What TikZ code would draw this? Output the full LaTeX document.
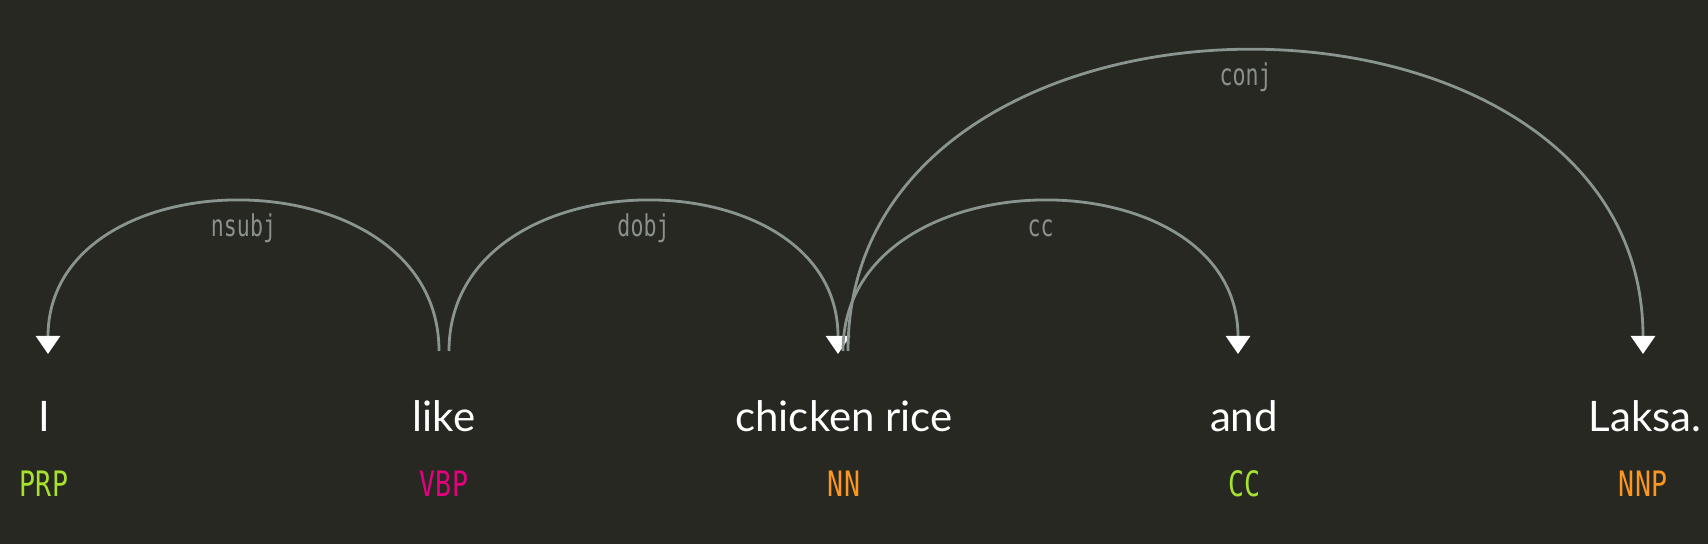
\documentclass[tikz,border=0pt]{standalone}
\usepackage{fontspec}
\setmainfont{Lato}
\newfontfamily\tagfont[FakeStretch=0.76]{DejaVu Sans Mono}
\newfontfamily\deplabelfont[FakeStretch=0.72]{DejaVu Sans Mono}
\usepackage{xcolor}
\usepackage{tikz}
\usetikzlibrary{positioning,arrows.meta}

\definecolor{bgdark}{RGB}{39,40,34}
\definecolor{arcgray}{RGB}{138,149,143}
\definecolor{lblgray}{RGB}{138,145,140}
\definecolor{taggreen}{RGB}{166,226,46}
\definecolor{tagpink}{RGB}{229,0,125}
\definecolor{tagorange}{RGB}{253,151,31}

\begin{document}
\begin{tikzpicture}[
x=0.5pt,
y=-0.5pt,
>={Triangle[width=12pt,length=9pt,color=white]},
word/.style={
anchor=base,
inner sep=0pt,
text=white,
font=\fontsize{21}{25}\selectfont
},
postag/.style={
anchor=base,
inner sep=0pt,
font=\tagfont\fontsize{17.5}{20}\selectfont
},
deparc/.style={
->,
draw=arcgray,
line width=1.4pt
},
deplabel/.style={
anchor=base,
inner sep=0pt,
yshift=-17pt,
text=lblgray,
font=\deplabelfont\fontsize{15}{17}\selectfont
}
]

\fill[bgdark] (0,0) rectangle (1708,544);
\useasboundingbox (0,0) rectangle (1708,544);

%%%%%%%%%%%%%%%%%%%%%%%%%%%%%%%%%%%%%%%%%%%%%
% Words
%%%%%%%%%%%%%%%%%%%%%%%%%%%%%%%%%%%%%%%%%%%%%

\node[word] (w-i) at (44,432) {I};
\node[word] (w-like) at (444,432) {like};
\node[word] (w-chicken) at (844,432) {chicken rice};
\node[word] (w-and) at (1244,432) {and};
\node[word] (w-laksa) at (1645,432) {Laksa.};

%%%%%%%%%%%%%%%%%%%%%%%%%%%%%%%%%%%%%%%%%%%%%
% Tags
%%%%%%%%%%%%%%%%%%%%%%%%%%%%%%%%%%%%%%%%%%%%%

\node[postag,text=taggreen] (t-i) at (44,497) {PRP};
\node[postag,text=tagpink] (t-like) at (444,497) {VBP};
\node[postag,text=tagorange] (t-chicken) at (844,497) {NN};
\node[postag,text=taggreen] (t-and) at (1244,497) {CC};
\node[postag,text=tagorange] (t-laksa) at (1643,497) {NNP};

%%%%%%%%%%%%%%%%%%%%%%%%%%%%%%%%%%%%%%%%%%%%%
% Arc ends
%%%%%%%%%%%%%%%%%%%%%%%%%%%%%%%%%%%%%%%%%%%%%

\coordinate (i-in) at (48,354);
\coordinate (like-l) at (439,351);
\coordinate (like-r) at (449,351);
\coordinate (chicken-in) at (838,354);
\coordinate (chicken-a) at (843,351);
\coordinate (chicken-b) at (848,351);
\coordinate (and-in) at (1238,354);
\coordinate (laksa-in) at (1643,354);

%%%%%%%%%%%%%%%%%%%%%%%%%%%%%%%%%%%%%%%%%%%%%
% Arcs
%%%%%%%%%%%%%%%%%%%%%%%%%%%%%%%%%%%%%%%%%%%%%

\draw[deparc] (like-l) .. controls +(0,-199) and +(0,-202) .. (i-in)
node[deplabel,pos=0.5] {nsubj};

\draw[deparc] (like-r) .. controls +(0,-199) and +(0,-202) .. (chicken-in)
node[deplabel,pos=0.5] {dobj};

\draw[deparc] (chicken-a) .. controls +(0,-199) and +(0,-202) .. (and-in)
node[deplabel,pos=0.5] {cc};

\draw[deparc] (chicken-b) .. controls +(0,-400) and +(0,-403) .. (laksa-in)
node[deplabel,pos=0.5] {conj};

\end{tikzpicture}
\end{document}
